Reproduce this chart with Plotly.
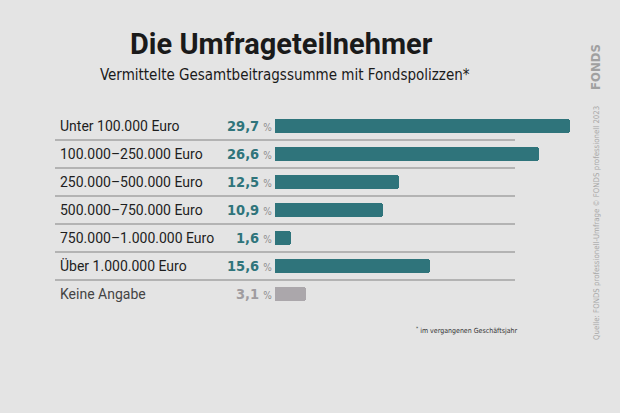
import plotly.graph_objects as go

categories = ["Unter 100.000 Euro", "100.000–250.000 Euro", "250.000–500.000 Euro",
              "500.000–750.000 Euro", "750.000–1.000.000 Euro", "Über 1.000.000 Euro",
              "Keine Angabe"]
values = [29.7, 26.6, 12.5, 10.9, 1.6, 15.6, 3.1]
value_labels = ["29,7", "26,6", "12,5", "10,9", "1,6", "15,6", "3,1"]
highlight = [True, True, True, True, True, True, False]

TEAL = "#2f747b"
GREY_BAR = "#aba7ab"
BG = "#e4e4e4"

W, H = 620, 413
x0_px = 275          # bar origin in pixels
px_per_unit = 9.93
row0_px = 126
row_step = 28

n = len(categories)
ypos = list(range(n))
colors = [TEAL if h else GREY_BAR for h in highlight]

fig = go.Figure()
fig.add_trace(go.Bar(
    x=values, y=ypos, orientation="h", width=0.5,
    marker=dict(color=colors, cornerradius=3, line=dict(width=0)),
    hoverinfo="skip", showlegend=False,
))

xmin = -x0_px / px_per_unit
xmax = (W - x0_px) / px_per_unit
ytop = -row0_px / row_step
ybot = (H - row0_px) / row_step

def px_to_x(px):
    return (px - x0_px) / px_per_unit

LABEL_FONT = "Roboto"
COND_FONT = "DejaVu Sans Condensed, Liberation Sans Narrow, Roboto"

annotations = []
shapes = []
for i, (cat, lab, hl) in enumerate(zip(categories, value_labels, highlight)):
    annotations.append(dict(
        x=px_to_x(58), y=i, xref="x", yref="y", text=cat, showarrow=False,
        xanchor="left", yanchor="middle",
        font=dict(family=LABEL_FONT, size=14, color="#1e1e1e" if hl else "#444444"),
    ))
    vcol = TEAL if hl else "#a09ca0"
    annotations.append(dict(
        x=px_to_x(274), y=i, xref="x", yref="y",
        text=f"<b>{lab}</b> <span style='font-size:10px;color:#8c8c8c'>%</span>",
        showarrow=False, xanchor="right", yanchor="middle",
        font=dict(family=COND_FONT, size=14.5, color=vcol),
    ))
    if i < n - 1:
        shapes.append(dict(
            type="line", xref="x", yref="y",
            x0=px_to_x(55), x1=px_to_x(515), y0=i + 0.5, y1=i + 0.5,
            line=dict(color="#a3a3a3", width=1.5),
        ))

# Title and subtitle
annotations.append(dict(
    x=281 / W, y=1 - 44 / H, xref="paper", yref="paper",
    text="<b>Die Umfrageteilnehmer</b>", showarrow=False,
    xanchor="center", yanchor="middle",
    font=dict(family="Roboto", size=29, color="#1a1a1a"),
))
annotations.append(dict(
    x=285 / W, y=1 - 75 / H, xref="paper", yref="paper",
    text="Vermittelte Gesamtbeitragssumme mit Fondspolizzen*", showarrow=False,
    xanchor="center", yanchor="middle",
    font=dict(family=COND_FONT, size=15, color="#1a1a1a"),
))
# Footnote
annotations.append(dict(
    x=414 / W, y=1 - 330 / H, xref="paper", yref="paper",
    text="<sup>*</sup> im vergangenen Geschäftsjahr", showarrow=False,
    xanchor="left", yanchor="middle",
    font=dict(family=COND_FONT, size=7, color="#333333"),
))
# Vertical source
annotations.append(dict(
    x=596 / W, y=1 - 223 / H, xref="paper", yref="paper",
    text="Quelle: FONDS professionell-Umfrage © FONDS professionell 2023",
    showarrow=False, textangle=-90, xanchor="center", yanchor="middle",
    font=dict(family=COND_FONT, size=7.8, color="#a8a8a8"),
))
annotations.append(dict(
    x=595 / W, y=1 - 67 / H, xref="paper", yref="paper",
    text="<b>FONDS</b>", showarrow=False, textangle=-90,
    xanchor="center", yanchor="middle",
    font=dict(family=COND_FONT, size=13, color="#a0a0a0"),
))

fig.update_layout(
    width=W, height=H,
    margin=dict(l=0, r=0, t=0, b=0),
    paper_bgcolor=BG, plot_bgcolor=BG,
    xaxis=dict(range=[xmin, xmax], visible=False, fixedrange=True),
    yaxis=dict(range=[ybot, ytop], visible=False, fixedrange=True),
    annotations=annotations, shapes=shapes,
    bargap=0,
)

fig.write_html(
    "out.html",
    post_script="document.body.style.margin='0';document.body.style.padding='0';",
    config={"displayModeBar": False},
)
